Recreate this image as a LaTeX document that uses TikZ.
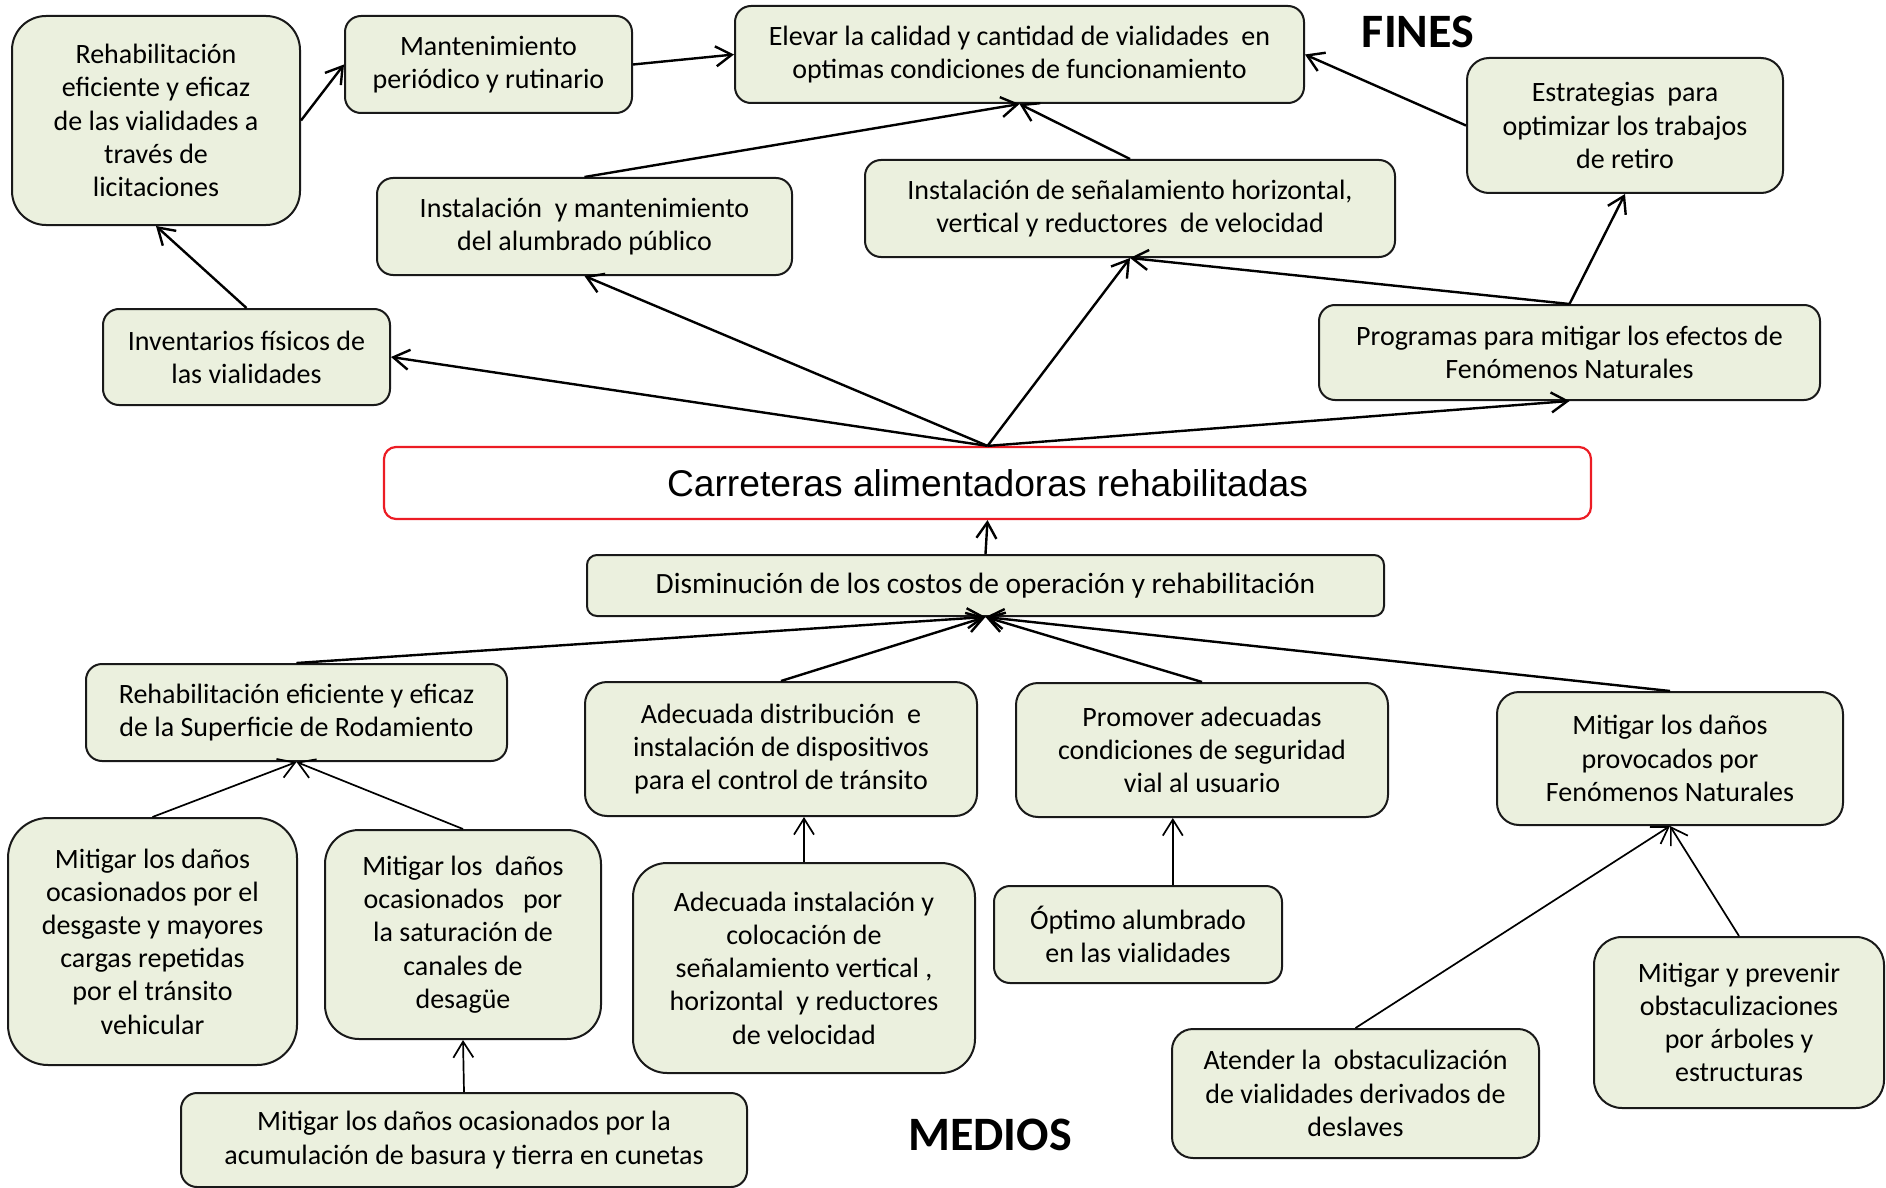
\documentclass[tikz,border=0pt]{standalone}
\usepackage{fontspec}
\setmainfont{Carlito}
\newfontfamily\titlefont{Liberation Sans}
\usetikzlibrary{arrows.meta,calc}

\definecolor{boxfill}{RGB}{235,240,222}
\definecolor{boxline}{RGB}{25,25,25}
\definecolor{corered}{RGB}{236,28,36}

\tikzset{
  box/.style={draw=boxline, fill=boxfill, line width=1pt, align=center,
    inner sep=0pt, font=\fontsize{14}{16.6}\selectfont},
  link/.style={draw=black, line width=1.2pt,
    -{Straight Barb[length=8pt,width=10pt]}},
  finelink/.style={link, line width=0.85pt},
  heading/.style={font=\fontsize{24}{28}\selectfont\bfseries},
}

\begin{document}
\begin{tikzpicture}[x=0.5pt,y=-0.5pt]
\useasboundingbox (0,0) rectangle (1886,1188);

% ---------- FINES ----------
\node[heading] (fines) at (1418,32) {FINES};

\node[box, minimum width=144pt, minimum height=104.5pt, rounded corners=17pt] (A) at (156,120.5)
  {Rehabilitación\\eficiente y eficaz\\de las vialidades a\\través de\\licitaciones};
\node[box, minimum width=143.5pt, minimum height=48.5pt, rounded corners=8pt] (B) at (488.5,64.5)
  {Mantenimiento\\periódico y rutinario};
\node[box, minimum width=284.5pt, minimum height=48.5pt, rounded corners=8pt] (C) at (1019.5,54.5)
  {Elevar la calidad y cantidad de vialidades\ \ en\\optimas condiciones de funcionamiento};
\node[box, minimum width=158pt, minimum height=67.5pt, rounded corners=11pt] (D) at (1625,125.5)
  {Estrategias\ \ para\\optimizar los trabajos\\de retiro};
\node[box, minimum width=207.5pt, minimum height=48.5pt, rounded corners=8pt] (E) at (584.5,226.5)
  {Instalación\ \ y mantenimiento\\del alumbrado público};
\node[box, minimum width=265pt, minimum height=48.5pt, rounded corners=8pt] (F) at (1130,208.5)
  {Instalación de señalamiento horizontal,\\vertical y reductores\ \ de velocidad};
\node[box, minimum width=143.5pt, minimum height=48pt, rounded corners=8pt] (G) at (246.5,357)
  {Inventarios físicos de\\las vialidades};
\node[box, minimum width=250.5pt, minimum height=47.5pt, rounded corners=8pt] (H) at (1569.5,352.5)
  {Programas para mitigar los efectos de\\Fenómenos Naturales};

% ---------- central problem ----------
\node[draw=corered, fill=white, line width=1.1pt, rounded corners=6pt, inner sep=0pt,
  minimum width=603.5pt, minimum height=36pt,
  font=\titlefont\fontsize{18.6}{21}\selectfont] (I) at (987.5,483)
  {Carreteras alimentadoras rehabilitadas};

% ---------- MEDIOS ----------
\node[box, minimum width=398.5pt, minimum height=30.5pt, rounded corners=5pt,
  font=\fontsize{14.7}{17}\selectfont] (J) at (985.5,585.5)
  {Disminución de los costos de operación y rehabilitación};
\node[box, minimum width=210.5pt, minimum height=48.5pt, rounded corners=8pt] (K) at (296.5,712.5)
  {Rehabilitación eficiente y eficaz\\de la Superficie de Rodamiento};
\node[box, minimum width=196pt, minimum height=67pt, rounded corners=11pt] (L) at (781,749)
  {Adecuada distribución\ \ e\\instalación de dispositivos\\para el control de tránsito};
\node[box, minimum width=186pt, minimum height=67pt, rounded corners=11pt] (M) at (1202,750)
  {Promover adecuadas\\condiciones de seguridad\\vial al usuario};
\node[box, minimum width=173pt, minimum height=66.5pt, rounded corners=11pt] (N) at (1670,758.5)
  {Mitigar los daños\\provocados por\\Fenómenos Naturales};
\node[box, minimum width=144.5pt, minimum height=123.5pt, rounded corners=20pt] (O) at (152.5,941.5)
  {Mitigar los daños\\ocasionados por el\\desgaste y mayores\\cargas repetidas\\por el tránsito\\vehicular};
\node[box, minimum width=138pt, minimum height=104.5pt, rounded corners=17pt] (P) at (463,934.5)
  {Mitigar los\ \ daños\\ocasionados\ \ \ por\\la saturación de\\canales de\\desagüe};
\node[box, minimum width=283pt, minimum height=47pt, rounded corners=8pt] (Q) at (464,1140)
  {Mitigar los daños ocasionados por la\\acumulación de basura y tierra en cunetas};
\node[box, minimum width=171pt, minimum height=105pt, rounded corners=17pt] (R) at (804,968)
  {Adecuada instalación y\\colocación de\\señalamiento vertical ,\\horizontal\ \ y reductores\\de velocidad};
\node[box, minimum width=144pt, minimum height=48.5pt, rounded corners=8pt] (S) at (1138,934.5)
  {Óptimo alumbrado\\en las vialidades};
\node[box, minimum width=183.5pt, minimum height=64.5pt, rounded corners=10.5pt] (T) at (1355.5,1093.5)
  {Atender la\ \ obstaculización\\de vialidades derivados de\\deslaves};
\node[box, minimum width=145pt, minimum height=85.5pt, rounded corners=14pt] (U) at (1739,1022.5)
  {Mitigar y prevenir\\obstaculizaciones\\por árboles y\\estructuras};

\node[heading] (medios) at (990,1135) {MEDIOS};

% ---------- connectors: ends ----------
\draw[link] (A.east) -- (B.west);
\draw[link] (B.east) -- (C.west);
\draw[link] (E.north) -- (C.south);
\draw[link] (F.north) -- (C.south);
\draw[link] (D.west) -- (C.east);
\draw[link] (G.north) -- (A.south);
\draw[link] (I.north) -- (G.east);
\draw[link] (I.north) -- (E.south);
\draw[link] (I.north) -- (F.south);
\draw[link] (I.north) -- (H.south);
\draw[link] (H.north) -- (F.south);
\draw[link] (H.north) -- (D.south);

% ---------- connectors: means ----------
\draw[link] (J.north) -- (I.south);
\draw[link] (K.north) -- (J.south);
\draw[link] (L.north) -- (J.south);
\draw[link] (M.north) -- (J.south);
\draw[link] (N.north) -- (J.south);
\draw[finelink] (O.north) -- (K.south);
\draw[finelink] (P.north) -- (K.south);
\draw[finelink] (Q.north) -- (P.south);
\draw[finelink] (R.north) -- (R.north |- L.south);
\coordinate (Stop) at ($(S.north west)!0.62!(S.north east)$);
\draw[finelink] (Stop) -- (Stop |- M.south);
\draw[finelink] (T.north) -- (N.south);
\draw[finelink] (U.north) -- (N.south);
\end{tikzpicture}
\end{document}
